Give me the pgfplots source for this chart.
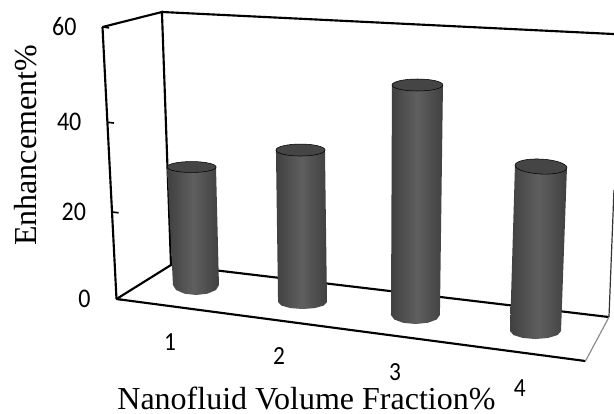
\documentclass[border=0pt]{standalone}
\usepackage{pgfplots}
\pgfplotsset{compat=1.18}
\usepackage{fontspec}
\setmainfont{Liberation Serif}
\newfontfamily\tickfont{Carlito}
\definecolor{cylside}{HTML}{404040}
\definecolor{cylmid}{HTML}{5F5F5F}
\definecolor{cyltop}{HTML}{454545}

\begin{document}
\begin{tikzpicture}
\begin{axis}[
    % skewed unit vectors give the tilted floor and value axis
    x={(87.94pt,-11.63pt)},
    y={(-0.175pt,3.4pt)},
    xmin=0.5, xmax=4.5,
    ymin=0, ymax=60,
    clip=false,
    axis x line*=bottom,
    axis y line*=left,
    axis line style={line width=1.6pt},
    tick align=inside,
    major tick length=5pt,
    y tick style={line width=1.2pt, black},
    x tick style={draw=none},
    % ticks squeezed a little by the perspective of the original
    ytick={0,19.2,39,60},
    yticklabels={0,20,40,60},
    xtick={0.956,1.886,2.875,3.94},
    xticklabels={1,2,3,4},
    yticklabel style={font=\tickfont\fontsize{18}{18}\selectfont, yscale=1.12, transform shape, anchor=east, xshift=-16pt},
    xticklabel style={font=\tickfont\fontsize{17.5}{18}\selectfont, yscale=1.12, transform shape, anchor=center, yshift=-24pt},
    xlabel={Nanofluid Volume Fraction\%},
    ylabel={Enhancement\%},
    xlabel style={font=\fontsize{24}{24}\selectfont, inner sep=0pt, at={(axis cs:2.087,-16.5)}, anchor=center},
    ylabel style={font=\fontsize{24}{24}\selectfont, at={(axis cs:-0.209,31.43)}, anchor=center, rotate=0},
]
% back wall and floor
\draw[line width=1.6pt] (axis cs:0.5,60) -- (axis cs:1.017,65.08) -- (axis cs:0.983,9.151) -- (axis cs:0.5,0);
\draw[line width=1.6pt] (axis cs:1.017,65.08) -- (axis cs:4.889,73.46);
\draw[line width=1.6pt] (axis cs:0.983,9.151) -- (axis cs:4.721,10.46);
\draw[line width=0.9pt, black!80] (axis cs:4.721,10.46) -- (axis cs:4.82,38.82);
\draw[line width=0.9pt, black!45] (axis cs:4.5,0) -- (axis cs:4.721,10.46);

% cylinder bodies: arc of the base, then the two top corners
\addplot[draw=none, left color=cylside, right color=cylside, middle color=cylmid] coordinates {
    (1.386,6.118) (1.358,4.917) (1.284,3.858) (1.184,3.222) (1.086,3.182) (1.016,3.749) (0.991,4.768)
    (0.994,30.59) (1.413,32.46)} -- cycle;
\addplot[draw=none, left color=cylside, right color=cylside, middle color=cylmid] coordinates {
    (2.306,5.514) (2.277,4.640) (2.199,3.809) (2.093,3.240) (1.988,3.089) (1.913,3.396) (1.886,4.076)
    (1.935,37.77) (2.356,39.21)} -- cycle;
\addplot[draw=none, left color=cylside, right color=cylside, middle color=cylmid] coordinates {
    (3.270,5.944) (3.240,4.848) (3.162,3.855) (3.056,3.226) (2.951,3.135) (2.876,3.604) (2.850,4.506)
    (2.960,55.62) (3.398,57.12)} -- cycle;
\addplot[draw=none, left color=cylside, right color=cylside, middle color=cylmid] coordinates {
    (4.303,5.944) (4.272,4.955) (4.190,4.030) (4.081,3.418) (3.971,3.282) (3.893,3.659) (3.865,4.446)
    (3.981,41.46) (4.426,42.32)} -- cycle;

% cylinder tops
\addplot[only marks, mark=*, mark size=1pt, mark options={draw=none, fill=cyltop, xscale=18.4, yscale=4.1}]
    coordinates {(1.203,31.52)};
\addplot[only marks, mark=*, mark size=1pt, mark options={draw=none, fill=cyltop, xscale=18.4, yscale=4.5}]
    coordinates {(2.146,38.49)};
\addplot[only marks, mark=*, mark size=1pt, mark options={draw=none, fill=cyltop, xscale=19.1, yscale=4.5}]
    coordinates {(3.179,56.37)};
\addplot[only marks, mark=*, mark size=1pt, mark options={draw=none, fill=cyltop, rotate=-3, xscale=19.5, yscale=5.6}]
    coordinates {(4.204,41.89)};
\coordinate (o) at (axis cs:0.5,0);
\end{axis}
\pgfresetboundingbox
\path[use as bounding box] (o) ++(-87.375pt,-86.25pt) rectangle ++(460.5pt,310.5pt);
\end{tikzpicture}
\end{document}
